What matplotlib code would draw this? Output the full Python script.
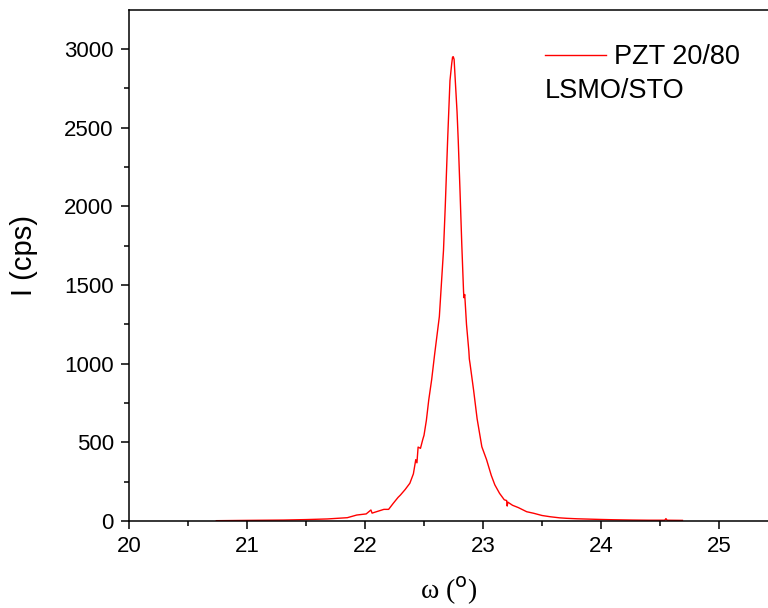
import matplotlib
matplotlib.use("Agg")
import matplotlib.pyplot as plt
from matplotlib.ticker import MultipleLocator

# rocking curve (omega in deg, intensity in cps)
omega = [20.74, 21.00, 21.31, 21.50, 21.68, 21.85, 21.93, 22.01, 22.05, 22.06,
         22.08, 22.16, 22.20, 22.24, 22.28, 22.30, 22.34, 22.38, 22.41, 22.43,
         22.44, 22.45, 22.47, 22.49, 22.50, 22.52, 22.54, 22.565, 22.59, 22.61,
         22.63, 22.645, 22.665, 22.68, 22.70, 22.72, 22.735, 22.742, 22.748, 22.755,
         22.765, 22.78, 22.79, 22.805, 22.82, 22.835, 22.838, 22.845, 22.86, 22.88,
         22.884, 22.89, 22.92, 22.95, 22.99, 23.03, 23.07, 23.10, 23.14, 23.18,
         23.20, 23.205, 23.21, 23.25, 23.30, 23.37, 23.43, 23.50, 23.57, 23.65,
         23.71, 23.80, 23.99, 24.10, 24.27, 24.40, 24.54, 24.55, 24.56, 24.69]
counts = [2, 4, 6, 9, 13, 21, 38, 45, 70, 50,
          55, 74, 74, 113, 150, 165, 200, 240, 300, 390,
          370, 470, 462, 520, 545, 640, 769, 900, 1060, 1180,
          1300, 1480, 1720, 2000, 2420, 2800, 2910, 2950, 2952, 2935,
          2800, 2600, 2420, 2100, 1760, 1460, 1420, 1440, 1250, 1080,
          1030, 1000, 833, 650, 472, 390, 290, 230, 176, 135,
          130, 95, 120, 100, 85, 59, 49, 35, 27, 20,
          17, 14, 10, 8, 6, 5, 5, 15, 5, 4]

fig = plt.figure(figsize=(7.68, 6.08), dpi=100)
ax = fig.add_axes([129 / 768, 87 / 608, 639 / 768, 511 / 608])

ax.plot(omega, counts, color="red", lw=1.0, label="PZT 20/80")

ax.set_xlim(20, 25.415)
ax.set_ylim(0, 3249)
ax.xaxis.set_major_locator(MultipleLocator(1))
ax.xaxis.set_minor_locator(MultipleLocator(0.5))
ax.yaxis.set_major_locator(MultipleLocator(500))
ax.yaxis.set_minor_locator(MultipleLocator(250))
ax.tick_params(which="both", direction="out", width=1.1, labelsize=16,
               top=False, right=False, pad=5)
ax.tick_params(which="major", length=6)
ax.tick_params(which="minor", length=3.3)
for s in ax.spines.values():
    s.set_linewidth(1.1)
ax.spines["right"].set_visible(False)
for lab in ax.get_xticklabels() + ax.get_yticklabels():
    lab.set_family("Liberation Sans")

ax.set_ylabel("I (cps)", fontsize=21, family="Liberation Sans")
ax.yaxis.set_label_coords(-0.143, 0.52)
plt.rcParams["mathtext.fontset"] = "custom"
plt.rcParams["mathtext.rm"] = "Liberation Serif"
ax.set_xlabel(r"ω ($\mathrm{^{o}}$)", fontsize=20, family="Liberation Serif",
              labelpad=13)

leg = ax.legend(loc="center left", bbox_to_anchor=(545 / 768, 1 - 57 / 608),
                bbox_transform=fig.transFigure, frameon=False, borderpad=0,
                borderaxespad=0, handlelength=2.25, handletextpad=0.28,
                prop={"family": "Liberation Sans", "size": 19.5})
fig.text(545 / 768, 1 - 91 / 608, "LSMO/STO", fontsize=19.5,
         family="Liberation Sans", va="center", ha="left")

fig.savefig("out.png", dpi=100)
